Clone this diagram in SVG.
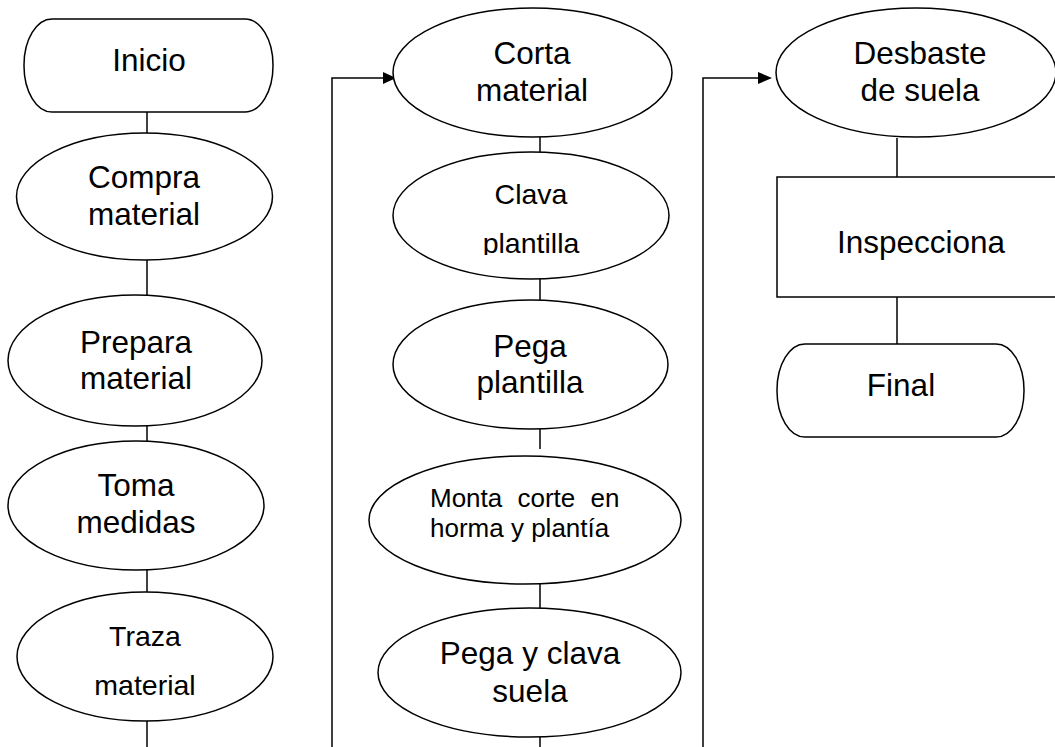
<svg xmlns="http://www.w3.org/2000/svg" width="1055" height="747" viewBox="0 0 1055 747">
<style>
.shape{fill:#fff;stroke:#000;stroke-width:1.5}
.conn{fill:none;stroke:#000;stroke-width:1.5}
.t{font-family:"Liberation Sans",Arial,sans-serif;font-size:31.5px;fill:#000;text-anchor:middle}
.s{font-size:28.5px}
.m{font-size:26px;text-anchor:start}
</style>
<defs>
<clipPath id="clipClava"><rect x="380" y="150" width="300" height="105"/></clipPath>
</defs>
<rect width="1055" height="747" fill="#fff"/>
<g id="connectors">
<line class="conn" x1="147" y1="112" x2="147" y2="133"/>
<line class="conn" x1="147" y1="260" x2="147" y2="295"/>
<line class="conn" x1="147" y1="426" x2="147" y2="441"/>
<line class="conn" x1="147" y1="570" x2="147" y2="592"/>
<line class="conn" x1="147" y1="721" x2="147" y2="747"/>
<polyline class="conn" points="332,747 332,78 385,78"/>
<polygon points="383,72 396,78 383,84" fill="#000"/>
<line class="conn" x1="540" y1="137" x2="540" y2="152"/>
<line class="conn" x1="540" y1="279" x2="540" y2="300"/>
<line class="conn" x1="540" y1="429" x2="540" y2="449"/>
<line class="conn" x1="540" y1="584" x2="540" y2="608"/>
<line class="conn" x1="540" y1="737" x2="540" y2="747"/>
<polyline class="conn" points="703,747 703,78 760,78"/>
<polygon points="758,72 772,78 758,84" fill="#000"/>
<line class="conn" x1="897" y1="138" x2="897" y2="177"/>
<line class="conn" x1="897" y1="297" x2="897" y2="344"/>
</g>
<g id="inicio">
<rect class="shape" x="24" y="19" width="249" height="93" rx="28" ry="46"/>
<text class="t" x="149" y="71">Inicio</text>
</g>
<g id="compra">
<ellipse class="shape" cx="144.5" cy="196.5" rx="128" ry="63.5"/>
<text class="t" x="144" y="188">Compra</text>
<text class="t" x="144" y="225">material</text>
</g>
<g id="prepara">
<ellipse class="shape" cx="135" cy="360.5" rx="127" ry="65.5"/>
<text class="t" x="136" y="353">Prepara</text>
<text class="t" x="136" y="389">material</text>
</g>
<g id="toma">
<ellipse class="shape" cx="136" cy="505.5" rx="128" ry="64.5"/>
<text class="t" x="136" y="496">Toma</text>
<text class="t" x="136" y="533">medidas</text>
</g>
<g id="traza">
<ellipse class="shape" cx="145" cy="656.5" rx="128" ry="64.5"/>
<text class="t s" x="145" y="646">Traza</text>
<text class="t s" x="145" y="695">material</text>
</g>
<g id="corta">
<ellipse class="shape" cx="532.5" cy="72.5" rx="139.5" ry="64.5"/>
<text class="t" x="532" y="64">Corta</text>
<text class="t" x="532" y="101">material</text>
</g>
<g id="clava">
<ellipse class="shape" cx="531" cy="215.5" rx="138" ry="63.5"/>
<text class="t s" x="531" y="204">Clava</text>
<text class="t s" x="531" y="253" clip-path="url(#clipClava)">plantilla</text>
</g>
<g id="pega">
<ellipse class="shape" cx="530.5" cy="364.5" rx="137.5" ry="64.5"/>
<text class="t" x="530" y="357">Pega</text>
<text class="t" x="530" y="393">plantilla</text>
</g>
<g id="monta">
<ellipse class="shape" cx="525" cy="520" rx="156" ry="64"/>
<text class="t m" x="430" y="507" word-spacing="8">Monta corte en</text>
<text class="t m" x="430" y="537">horma y plantía</text>
</g>
<g id="pegaclava">
<ellipse class="shape" cx="529.5" cy="672.5" rx="151.5" ry="64.5"/>
<text class="t" x="530" y="664">Pega y clava</text>
<text class="t" x="530" y="702">suela</text>
</g>
<g id="desbaste">
<ellipse class="shape" cx="916" cy="72.5" rx="140" ry="64.5"/>
<text class="t" x="920" y="64">Desbaste</text>
<text class="t" x="920" y="101">de suela</text>
</g>
<g id="inspecciona">
<rect class="shape" x="777" y="177" width="290" height="120"/>
<text class="t" x="921" y="253">Inspecciona</text>
</g>
<g id="final">
<rect class="shape" x="777" y="344" width="247" height="93" rx="28" ry="46"/>
<text class="t" x="901" y="396">Final</text>
</g>
</svg>
